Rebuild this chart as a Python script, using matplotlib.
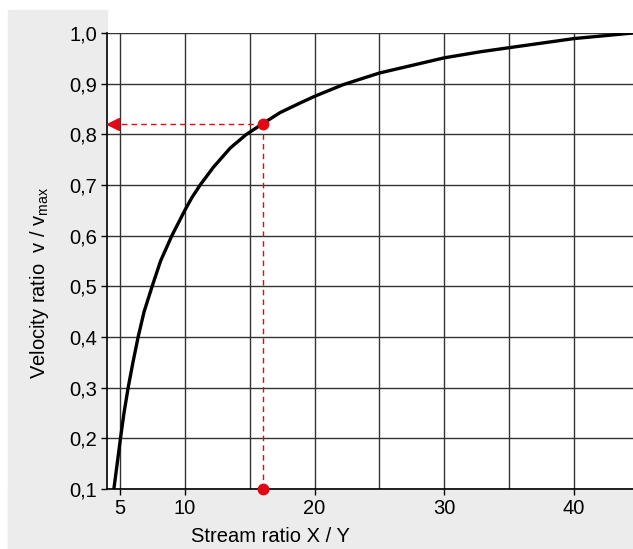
import matplotlib
matplotlib.use("Agg")
import matplotlib.pyplot as plt
from matplotlib.patches import Rectangle

plt.rcParams['font.family'] = ['Liberation Sans', 'DejaVu Sans']
plt.rcParams['mathtext.fontset'] = 'custom'
plt.rcParams['mathtext.rm'] = 'Liberation Sans'

# ---- data
stream_ratio = [4.53, 5.04, 5.31, 5.63, 6.0, 6.40, 6.86, 7.48, 8.13, 9.0, 10.0, 10.54,
                11.18, 12.2, 13.5, 14.75, 16.0, 17.35, 18.9, 20.0, 22.2, 25.0, 30.0,
                32.8, 35.0, 40.0, 44.55]
velocity_ratio = [0.10, 0.20, 0.25, 0.30, 0.35, 0.40, 0.45, 0.50, 0.55, 0.60, 0.65, 0.675,
                  0.70, 0.735, 0.773, 0.80, 0.821, 0.843, 0.862, 0.875, 0.898, 0.921, 0.951,
                  0.963, 0.971, 0.989, 1.0]

example_x = 16.0
example_y = 0.82

x_ticks = [5, 10, 20, 30, 40]
x_minor = [15, 25, 35]
y_ticks = [0.1, 0.2, 0.3, 0.4, 0.5, 0.6, 0.7, 0.8, 0.9, 1.0]
y_labels = ["0,1", "0,2", "0,3", "0,4", "0,5", "0,6", "0,7", "0,8", "0,9", "1,0"]

red = "#e30613"
W, H = 633, 549

fig = plt.figure(figsize=(6.33, 5.49), dpi=100)

# grey L-shaped background
grey = "#ececec"
fig.patches.append(Rectangle((8 / W, 1 - 548 / H), (107 - 8) / W, (548 - 10) / H,
                             transform=fig.transFigure, color=grey, zorder=-5))
fig.patches.append(Rectangle((8 / W, 1 - 548 / H), (W - 8) / W, (548 - 489) / H,
                             transform=fig.transFigure, color=grey, zorder=-5))

ax = fig.add_axes([107 / W, 1 - 489 / H, (W - 107) / W, (489 - 33) / H])
ax.set_facecolor("white")

ax.plot(stream_ratio, velocity_ratio, color="black", lw=2.4, zorder=4,
        solid_joinstyle="round")

# red helper lines
ax.plot([example_x, 4.5], [example_y, example_y], color=red, lw=1,
        dashes=(4, 3), zorder=5)
ax.plot([example_x, example_x], [example_y, 0.1], color=red, lw=1,
        dashes=(4, 3), zorder=5)
ax.plot([4.47], [example_y], marker="<", color=red, markersize=8.5, zorder=6,
        clip_on=False)
ax.plot([example_x, example_x], [example_y, 0.1], linestyle="none", marker="o",
        color=red, markersize=7.5, zorder=7, clip_on=False)

ax.set_xlim(4.0, 44.55)
ax.set_ylim(0.1, 1.0)
ax.set_xticks(x_ticks)
ax.set_xticks(x_minor, minor=True)
ax.set_yticks(y_ticks)
ax.set_yticklabels(y_labels)
ax.grid(True, which="both", color="#333333", lw=1, zorder=1)
ax.set_axisbelow(True)

ax.tick_params(axis="both", which="major", direction="out", length=4, width=1,
               color="black", labelsize=14.5, pad=3)
ax.tick_params(axis="x", which="minor", length=0)

for side in ["top", "right"]:
    ax.spines[side].set_visible(False)
for side in ["left", "bottom"]:
    ax.spines[side].set_color("black")
    ax.spines[side].set_linewidth(1.2)

fig.text(270 / W, 1 - 536 / H, "Stream ratio X / Y", fontsize=14.5,
         ha="center", va="center")
fig.text(40 / W, 1 - 283 / H, r"Velocity ratio  v / v$_{\mathregular{max}}$",
         fontsize=14.5, rotation=90, ha="center", va="center")

fig.savefig("out.png", dpi=100)
